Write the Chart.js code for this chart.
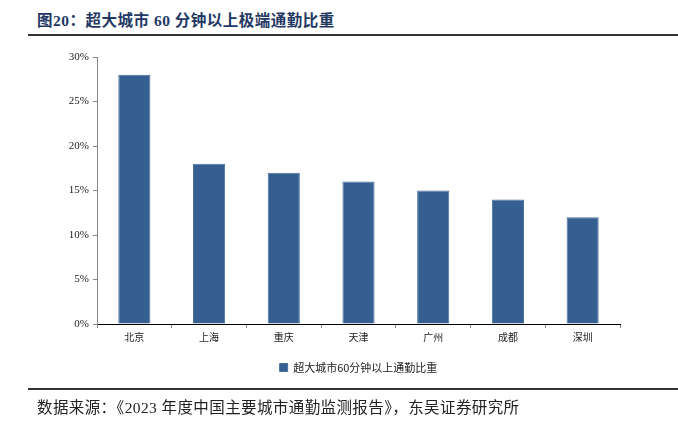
<!DOCTYPE html>
<html>
<head>
<meta charset="utf-8">
<script src="https://cdn.jsdelivr.net/npm/chart.js@4/dist/chart.umd.min.js"></script>
<style>
  body { margin: 0; width: 678px; height: 428px; background: #fff; position: relative; overflow: hidden; }
  #titulo { position: absolute; left: 37px; top: 8px; font: bold 15.5px "Liberation Serif", "Noto Sans CJK SC", serif; color: #1f3864; letter-spacing: 0.5px; }
  .linea { position: absolute; left: 28px; right: 0; height: 2px; background: #333; }
  #fuente { position: absolute; left: 37px; top: 395px; font: 15.5px "Liberation Serif", "Noto Sans CJK SC", serif; color: #222; letter-spacing: 0.4px; }
  #grafico { position: absolute; left: 0; top: 0; }
</style>
</head>
<body>
<div id="titulo">图20：超大城市 60 分钟以上极端通勤比重</div>
<div class="linea" style="top:34px"></div>
<canvas id="grafico" width="678" height="428"></canvas>
<div class="linea" style="top:388px"></div>
<div id="fuente">数据来源：《2023 年度中国主要城市通勤监测报告》，东吴证券研究所</div>
<script>
const ciudades = ['北京', '上海', '重庆', '天津', '广州', '成都', '深圳'];
const proporcion = [28, 18, 17, 16, 15, 14, 12];
const etiquetaSerie = '超大城市60分钟以上通勤比重';

const fuenteEjes = { family: '"Liberation Serif", "Noto Sans CJK SC", serif', size: 11 };

const grafico = new Chart(document.getElementById('grafico'), {
    type: 'bar',
    data: {
        labels: ciudades,
        datasets: [{
            label: etiquetaSerie,
            data: proporcion,
            backgroundColor: '#365f91',
            borderColor: '#4a6f9c',
            borderWidth: 1,
            categoryPercentage: 0.86,
            barPercentage: 0.5
        }]
    },
    options: {
        responsive: false,
        animation: false,
        layout: { padding: { top: 57, right: 58, bottom: 45, left: 0 } },
        plugins: {
            tooltip: { enabled: false },
            legend: {
                position: 'bottom',
                fullSize: false,
                labels: {
                    boxWidth: 8,
                    boxHeight: 8,
                    padding: 4,
                    color: '#222',
                    font: { family: '"Noto Sans CJK SC", sans-serif', size: 11 }
                }
            }
        },
        scales: {
            x: {
                afterFit: (escala) => { escala.height = 34; },
                border: { color: '#000', width: 1 },
                grid: { drawOnChartArea: false, tickLength: 4, color: '#888' },
                ticks: { color: '#222', padding: 3, font: { family: '"Noto Sans CJK SC", sans-serif', size: 10 } }
            },
            y: {
                min: 0,
                max: 30,
                afterFit: (escala) => { escala.width = 97; },
                border: { color: '#888', width: 1 },
                grid: { drawOnChartArea: false, tickLength: 4, color: '#888' },
                ticks: {
                    stepSize: 5,
                    color: '#222',
                    padding: 4,
                    font: fuenteEjes,
                    callback: (v) => v + '%'
                }
            }
        }
    }
});
</script>
</body>
</html>
